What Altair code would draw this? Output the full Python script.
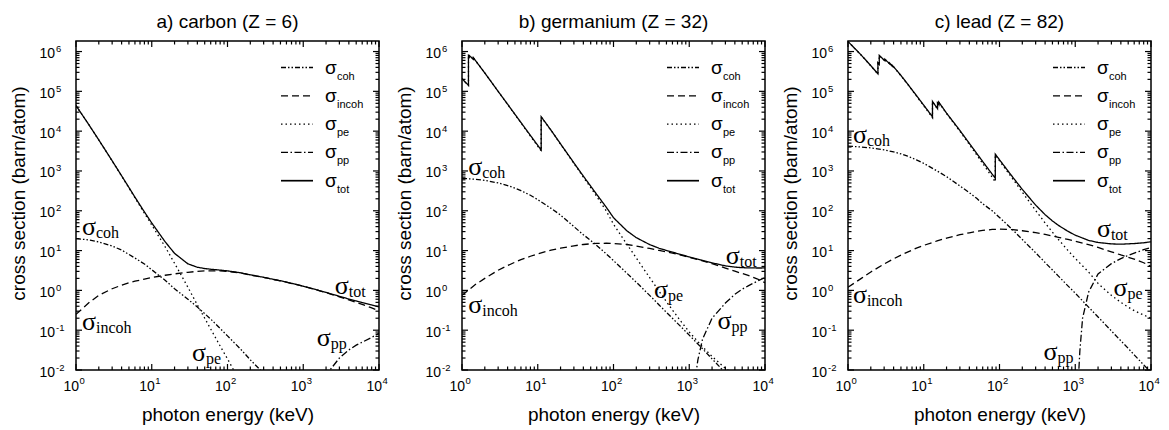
import math
import altair as alt
import pandas as pd

# ---------------- data: photon energy (keV) -> cross section (barn/atom) ----------------
E_STD = [1, 1.5, 2, 3, 4, 5, 6, 8, 10, 15, 20, 30, 40, 50, 60, 80, 100, 150, 200, 300,
         400, 500, 600, 800, 1000, 1500, 2000, 3000, 4000, 5000, 6000, 8000, 10000]

# a) carbon
C_TOT = [44020, 13920, 6017, 1804, 757, 384, 220, 93.5, 49.4, 16.7, 8.5, 4.65, 3.81, 3.54, 3.4,
         3.23, 3.09, 2.76, 2.46, 2.13, 1.9, 1.745, 1.615, 1.41, 1.27, 1.035, 0.888, 0.71, 0.607,
         0.542, 0.495, 0.431, 0.388]
C_INCOH = [0.25, 0.5, 0.75, 1.1, 1.35, 1.55, 1.7, 1.92, 2.1, 2.4, 2.6, 2.85, 3.0, 3.08, 3.1, 3.08,
           3.0, 2.72, 2.44, 2.12, 1.89, 1.74, 1.61, 1.41, 1.27, 1.03, 0.88, 0.69, 0.575, 0.50,
           0.445, 0.365, 0.305]
C_COH_E = [1, 1.5, 2, 3, 4, 5, 6, 8, 10, 15, 20, 30, 40, 50, 60, 80, 100, 150, 200, 300]
C_COH = [20, 18.5, 16.5, 13.0, 10.3, 8.0, 6.5, 4.6, 3.3, 1.8, 1.1, 0.6, 0.38, 0.26, 0.19, 0.11,
         0.072, 0.033, 0.018, 0.0082]
C_PE_E = [1, 1.5, 2, 3, 4, 5, 6, 8, 10, 15, 20, 30, 40, 50, 60, 80, 100, 150]
C_PE = [44000, 13900, 6000, 1790, 745, 375, 212, 87, 44, 12.5, 4.8, 1.2, 0.43, 0.2, 0.107, 0.04,
        0.019, 0.0047]
C_PP_E = [1500, 2000, 3000, 4000, 5000, 6000, 8000, 10000]
C_PP = [0.0015, 0.0075, 0.02, 0.032, 0.042, 0.05, 0.066, 0.083]

# b) germanium
G_TOT_E = [1, 1.1, 1.217, 1.217, 1.248, 1.248, 1.414, 1.414, 1.5, 2, 3, 4, 5, 6, 8, 10, 11.1, 11.1,
           15, 20, 30, 40, 50, 60, 80, 100, 150, 200, 300, 400, 500, 600, 800, 1000, 1500, 2000,
           3000, 4000, 5000, 6000, 8000, 10000]
G_TOT = [2.1e5, 1.72e5, 1.42e5, 7.8e5, 7.35e5, 7.9e5, 6.4e5, 7.0e5, 6.0e5, 2.9e5, 1.0e5, 4.75e4,
         2.65e4, 1.65e4, 7.8e3, 4.4e3, 3.35e3, 2.3e4, 1.05e4, 4.8e3, 1.6e3, 740, 415, 258, 124, 67,
         31.4, 21.1, 14.15, 11.44, 10.05, 9.12, 7.82, 6.93, 5.65, 4.92, 4.13, 3.84, 3.72, 3.68,
         3.65, 3.66]
G_PE_E = G_TOT_E[:26] + [150, 200, 300, 400, 500, 600, 800, 1000, 1500, 2000, 3000, 4000]
G_PE = [2.09e5, 1.71e5, 1.41e5, 7.79e5, 7.34e5, 7.89e5, 6.39e5, 6.99e5, 5.99e5, 2.89e5, 9.95e4,
        4.71e4, 2.61e4, 1.62e4, 7.55e3, 4.2e3, 3.17e3, 2.28e4, 1.04e4, 4.71e3, 1.55e3, 700, 382,
        229, 100, 46, 14.5, 6.5, 2.1, 0.95, 0.52, 0.32, 0.155, 0.09, 0.038, 0.022, 0.011, 0.0075]
G_COH_E = [1, 1.5, 2, 3, 4, 5, 6, 8, 10, 15, 20, 30, 40, 50, 60, 80, 100, 150, 200, 300, 400, 500,
           600, 800, 1000, 1500, 2000, 3000, 4000]
G_COH = [650, 620, 580, 500, 430, 370, 320, 245, 190, 115, 78, 40, 25, 18, 13.5, 8.3, 5.6, 2.7,
         1.6, 0.75, 0.43, 0.28, 0.2, 0.115, 0.075, 0.034, 0.019, 0.0085, 0.0048]
G_INCOH = [0.75, 1.4, 2.0, 3.2, 4.2, 5.1, 5.9, 7.2, 8.3, 10.2, 11.5, 13.2, 14.2, 14.8, 15.1, 15.3,
           15.1, 14.2, 13.0, 11.3, 10.06, 9.25, 8.6, 7.55, 6.76, 5.52, 4.68, 3.63, 3.03, 2.65,
           2.38, 1.93, 1.56]
G_PP_E = [1050, 1100, 1200, 1300, 1500, 2000, 3000, 4000, 5000, 6000, 8000, 10000]
G_PP = [0.0003, 0.001, 0.006, 0.018, 0.06, 0.2, 0.48, 0.8, 1.07, 1.3, 1.72, 2.1]

# c) lead
P_TOT_E = [1, 1.5, 2, 2.484, 2.484, 2.586, 2.586, 3.066, 3.066, 3.554, 3.554, 3.851, 3.851, 4, 5,
           6, 8, 10, 13.04, 13.04, 15.2, 15.2, 15.86, 15.86, 20, 30, 40, 50, 60, 80, 88, 88, 100,
           150, 200, 300, 400, 500, 600, 800, 1000, 1500, 2000, 3000, 4000, 5000, 6000, 8000,
           10000]
P_TOT = [1.79e6, 8.1e5, 4.42e5, 2.75e5, 5.2e5, 4.75e5, 8.0e5, 5.85e5, 6.4e5, 4.9e5, 5.1e5, 4.3e5,
         4.5e5, 4.15e5, 2.51e5, 1.61e5, 7.87e4, 4.49e4, 2.3e4, 5.58e4, 3.68e4, 5.1e4, 4.6e4,
         5.3e4, 2.84e4, 1.04e4, 4.94e3, 2.77e3, 1.73e3, 832, 657, 2.64e3, 1.91e3, 693, 344, 139,
         79.9, 55.5, 42.9, 30.5, 24.4, 18.0, 16.0, 14.7, 14.5, 14.75, 15.0, 15.7, 16.6]
P_PE_E = P_TOT_E[:33] + [150, 200, 300, 400, 500, 600, 800, 1000, 1500, 2000, 3000, 4000, 5000,
                         6000, 8000, 10000]
P_PE = [1.786e6, 8.06e5, 4.38e5, 2.71e5, 5.16e5, 4.71e5, 7.96e5, 5.82e5, 6.37e5, 4.87e5, 5.07e5,
        4.27e5, 4.47e5, 4.12e5, 2.48e5, 1.586e5, 7.68e4, 4.33e4, 2.18e4, 5.47e4, 3.58e4, 5.0e4,
        4.51e4, 5.21e4, 2.77e4, 9.95e3, 4.63e3, 2.53e3, 1.55e3, 698, 530, 2.51e3, 1.80e3, 627,
        293, 102, 49.5, 28.95, 19.0, 10.1, 6.35, 2.9, 1.5, 0.75, 0.5, 0.38, 0.31, 0.24, 0.2]
P_COH = [4200, 4000, 3800, 3400, 3000, 2700, 2400, 1900, 1550, 1000, 720, 420, 285, 205, 150, 100,
         68, 33, 19, 8.8, 5.0, 3.25, 2.28, 1.3, 0.85, 0.38, 0.215, 0.096, 0.054, 0.035, 0.024,
         0.0135, 0.0087]
P_INCOH = [1.2, 2.0, 2.9, 4.6, 6.2, 7.7, 9.0, 11.5, 13.5, 17.5, 20.5, 25, 28, 30.5, 32, 34, 34.5,
           33.5, 31.5, 28.2, 25.4, 23.3, 21.6, 19.1, 17.2, 14.1, 12.0, 9.3, 7.75, 6.8, 6.1, 4.95,
           4.0]
P_PP_E = [1030, 1050, 1100, 1150, 1250, 1500, 2000, 3000, 4000, 5000, 6000, 8000, 10000]
P_PP = [0.0001, 0.0008, 0.006, 0.03, 0.2, 0.9, 2.6, 4.7, 6.3, 7.6, 8.6, 10.5, 12.0]

# curve labels (energy keV, cross section barn at label baseline)
C_NOTES = [("coh", 1.2, 25), ("incoh", 1.2, 0.10), ("pe", 34, 0.017), ("pp", 1510, 0.041),
           ("tot", 2610, 0.83)]
G_NOTES = [("coh", 1.21, 800), ("incoh", 1.21, 0.275), ("pe", 342, 0.66), ("pp", 2360, 0.11),
           ("tot", 3040, 4.5)]
P_NOTES = [("coh", 1.16, 4.9e3), ("incoh", 1.16, 0.49), ("pe", 3200, 0.74), ("pp", 380, 0.0174),
           ("tot", 1930, 21.4)]

TITLES = ["a) carbon (Z = 6)", "b) germanium (Z = 32)", "c) lead (Z = 82)"]
X_TICKS = [1, 10, 100, 1000, 10000]
X_EXP = ["0", "1", "2", "3", "4"]
Y_TICKS = [0.01, 0.1, 1, 10, 100, 1000, 1e4, 1e5, 1e6]
Y_EXP = ["-2", "-1", "0", "1", "2", "3", "4", "5", "6"]

SERIES = ["coh", "incoh", "pe", "pp", "tot"]
DASHES = [[5, 2, 1.5, 2, 1.5, 2], [7, 4], [1.5, 3], [7, 2.5, 1.5, 2.5], [1, 0]]
WIDTHS = [1.3, 1.3, 1.3, 1.3, 1.7]

# ---------------- styling ----------------
W, H = 303, 329
X_DOM = [1, 1e4]
Y_DOM = [0.01, 1.84e6]
SANS = "Liberation Sans"
SERIF = "Liberation Serif"
X_TITLE = "photon energy (keV)"
Y_TITLE = "cross section (barn/atom)"

xs = alt.Scale(type="log", domain=X_DOM, nice=False)
ys = alt.Scale(type="log", domain=Y_DOM, nice=False)
x_axis = alt.Axis(labels=False, title=X_TITLE, titlePadding=35)
y_axis = alt.Axis(labels=False, title=Y_TITLE, titlePadding=48, titleY=152)


def X(field):
    return alt.X(field, scale=xs, axis=x_axis, title=X_TITLE)


def Y(field):
    return alt.Y(field, scale=ys, axis=y_axis, title=Y_TITLE)


def is_decade(v):
    return abs(round(math.log10(v)) - math.log10(v)) < 1e-9


x_all = [m * 10 ** k for k in range(0, 4) for m in range(1, 10)] + [10000]
y_all = [m * 10.0 ** k for k in range(-2, 7) for m in range(1, 10) if m * 10.0 ** k <= Y_DOM[1]]


def tick_layers():
    layers = []
    for major, length in [(True, 6), (False, 3.5)]:
        xv = pd.DataFrame({"v": [v for v in x_all if is_decade(v) == major]})
        yv = pd.DataFrame({"v": [v for v in y_all if is_decade(v) == major]})
        rk = dict(color="black", strokeWidth=1.2)
        layers.append(alt.Chart(xv).mark_rule(**rk).encode(
            x=X("v:Q"), y=alt.value(H), y2=alt.value(H - length)))
        layers.append(alt.Chart(xv).mark_rule(**rk).encode(
            x=X("v:Q"), y=alt.value(0), y2=alt.value(length)))
        layers.append(alt.Chart(yv).mark_rule(**rk).encode(
            y=Y("v:Q"), x=alt.value(0), x2=alt.value(length)))
        layers.append(alt.Chart(yv).mark_rule(**rk).encode(
            y=Y("v:Q"), x=alt.value(W), x2=alt.value(W - length)))
    return layers


def tick_label_layers():
    xl = pd.DataFrame({"v": X_TICKS, "b": ["10"] * len(X_TICKS), "e": X_EXP})
    yl = pd.DataFrame({"v": Y_TICKS, "b": ["10"] * len(Y_TICKS), "e": Y_EXP})
    tk = dict(font=SANS, color="black", baseline="alphabetic")
    return [
        alt.Chart(xl).mark_text(fontSize=14, align="right", dx=3, **tk).encode(
            x=X("v:Q"), y=alt.value(H + 20.5), text="b:N"),
        alt.Chart(xl).mark_text(fontSize=9.5, align="left", dx=3.5, **tk).encode(
            x=X("v:Q"), y=alt.value(H + 13.5), text="e:N"),
        alt.Chart(yl).mark_text(fontSize=14, align="right", dy=6.5, **tk).encode(
            x=alt.value(-21), y=Y("v:Q"), text="b:N"),
        alt.Chart(yl).mark_text(fontSize=9.5, align="left", dy=0.5, **tk).encode(
            x=alt.value(-20), y=Y("v:Q"), text="e:N"),
    ]


def legend_layers():
    layers = []
    for i, (s, d, w) in enumerate(zip(SERIES, DASHES, WIDTHS)):
        yr = 26.5 + 28.3 * i
        one = pd.DataFrame({"sub": [s]})
        rule_kw = dict(color="black", strokeWidth=w)
        if s != "tot":
            rule_kw["strokeDash"] = d
        layers.append(alt.Chart(one).mark_rule(**rule_kw).encode(
            x=alt.value(W - 98), x2=alt.value(W - 66), y=alt.value(yr)))
        layers.append(alt.Chart(one).mark_text(text="σ", font=SANS, fontSize=19, align="left",
                                               baseline="alphabetic", color="black").encode(
            x=alt.value(W - 54), y=alt.value(yr + 6)))
        layers.append(alt.Chart(one).mark_text(font=SANS, fontSize=11, align="left",
                                               baseline="alphabetic", color="black").encode(
            x=alt.value(W - 42), y=alt.value(yr + 12), text="sub:N"))
    return layers


def panel(title, series, notes):
    rows = []
    for name, (E, S) in series.items():
        for i, (e, s) in enumerate(zip(E, S)):
            rows.append({"v": e, "w": s, "series": name, "idx": i})
    df = pd.DataFrame(rows)
    lines = alt.Chart(df).mark_line(clip=True, color="black").encode(
        x=X("v:Q"),
        y=Y("w:Q"),
        detail="series:N",
        strokeDash=alt.StrokeDash("series:N", scale=alt.Scale(domain=SERIES, range=DASHES),
                                  legend=None),
        strokeWidth=alt.StrokeWidth("series:N", scale=alt.Scale(domain=SERIES, range=WIDTHS),
                                    legend=None),
        order="idx:Q",
    )
    ndf = pd.DataFrame({"sub": [n[0] for n in notes], "v": [n[1] for n in notes],
                        "w": [n[2] for n in notes]})
    sig = alt.Chart(ndf).mark_text(text="σ", font=SERIF, fontSize=26, align="left",
                                   baseline="alphabetic", color="black").encode(
        x=X("v:Q"), y=Y("w:Q"))
    sub = alt.Chart(ndf).mark_text(font=SERIF, fontSize=16, align="left", baseline="alphabetic",
                                   dx=14, dy=3, color="black").encode(
        x=X("v:Q"), y=Y("w:Q"), text="sub:N")
    return alt.layer(lines, *tick_layers(), *tick_label_layers(), sig, sub,
                     *legend_layers()).properties(width=W, height=H, title=title)


pa = panel(TITLES[0], {"coh": (C_COH_E, C_COH), "incoh": (E_STD, C_INCOH), "pe": (C_PE_E, C_PE),
                       "pp": (C_PP_E, C_PP), "tot": (E_STD, C_TOT)}, C_NOTES)
pb = panel(TITLES[1], {"coh": (G_COH_E, G_COH), "incoh": (E_STD, G_INCOH), "pe": (G_PE_E, G_PE),
                       "pp": (G_PP_E, G_PP), "tot": (G_TOT_E, G_TOT)}, G_NOTES)
pc = panel(TITLES[2], {"coh": (E_STD, P_COH), "incoh": (E_STD, P_INCOH), "pe": (P_PE_E, P_PE),
                       "pp": (P_PP_E, P_PP), "tot": (P_TOT_E, P_TOT)}, P_NOTES)

chart = alt.hconcat(pa, pb, pc, spacing=83, bounds="flush").configure_view(
    stroke="black", strokeWidth=1.5
).configure_axis(
    grid=False, ticks=False, tickSize=0, domain=False,
    titleFont=SANS, titleFontSize=19, titleFontWeight="normal", titleColor="black",
).configure_title(
    font=SANS, fontSize=19, fontWeight="normal", color="black", offset=8, anchor="middle"
).properties(background="white", padding={"left": 0, "top": 4, "right": 0, "bottom": 0})

chart.save("out.html", embed_options={"renderer": "svg", "actions": False})
